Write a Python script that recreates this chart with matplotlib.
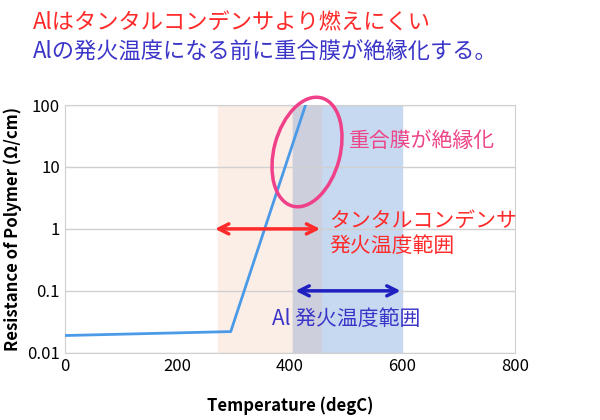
import matplotlib
matplotlib.use('Agg')
import matplotlib.pyplot as plt
from matplotlib.patches import Ellipse

plt.rcParams['font.family'] = ['Noto Sans CJK JP', 'DejaVu Sans']

temp = [0, 295, 428]
resistance = [0.019, 0.022, 100]
ta_range = (272, 455)
al_range = (405, 600)
ta_arrow = (262, 459)
al_arrow = (405, 602)
xticks = [0, 200, 400, 600, 800]
yticks = [0.01, 0.1, 1, 10, 100]
ylabels = ['0.01', '0.1', '1', '10', '100']

fig = plt.figure(figsize=(6, 4.2), dpi=100)
ax = fig.add_axes([0.108, 0.16, 0.75, 0.59])

ax.axvspan(*ta_range, color='#fbeee6', zorder=0)
ax.axvspan(*al_range, color='#c6d9f0', zorder=0)
ax.axvspan(al_range[0], ta_range[1], color='#cdcfdc', zorder=0)
ax.plot(temp, resistance, color='#4a9ae8', lw=2, zorder=3)

ax.set_yscale('log')
ax.set_xlim(0, 800)
ax.set_ylim(0.01, 100)
ax.set_xticks(xticks)
ax.set_yticks(yticks)
ax.set_yticklabels(ylabels)
ax.minorticks_off()
ax.grid(axis='y', color='#d0d0d0', lw=1)
ax.tick_params(length=0, labelsize=12)
for s in ax.spines.values():
    s.set_color('#d0d0d0')
ax.set_xlabel('Temperature (degC)', fontsize=12, fontweight='bold', labelpad=16)
ax.set_ylabel('Resistance of Polymer (Ω/cm)', fontsize=12, fontweight='bold')

ax.annotate('', xy=(ta_arrow[0], 1), xytext=(ta_arrow[1], 1),
            arrowprops=dict(arrowstyle='<->', color='#ff2a2a', lw=2.5, mutation_scale=18))
ax.annotate('', xy=(al_arrow[0], 0.1), xytext=(al_arrow[1], 0.1),
            arrowprops=dict(arrowstyle='<->', color='#2020c0', lw=2.5, mutation_scale=18))
ax.text(470, 0.85, 'タンタルコンデンサ\n発火温度範囲', color='#ff2a2a', fontsize=15,
        va='center', linespacing=1.2, clip_on=False)
ax.text(368, 0.035, 'Al 発火温度範囲', color='#3a34c8', fontsize=15, va='center')
ax.text(505, 26, '重合膜が絶縁化', color='#ee4488', fontsize=15, va='center', clip_on=False)

ell = Ellipse((3.07, 2.68), 0.66, 1.12, angle=-15, transform=fig.dpi_scale_trans,
              fill=False, edgecolor='#f0408a', lw=2.5, zorder=4, clip_on=False)
ax.add_patch(ell)

fig.text(0.055, 0.945, 'Alはタンタルコンデンサより燃えにくい', color='#ff2a2a', fontsize=16, va='center')
fig.text(0.055, 0.875, 'Alの発火温度になる前に重合膜が絶縁化する。', color='#3a34c8', fontsize=16, va='center')

fig.savefig('out.png', dpi=100)
